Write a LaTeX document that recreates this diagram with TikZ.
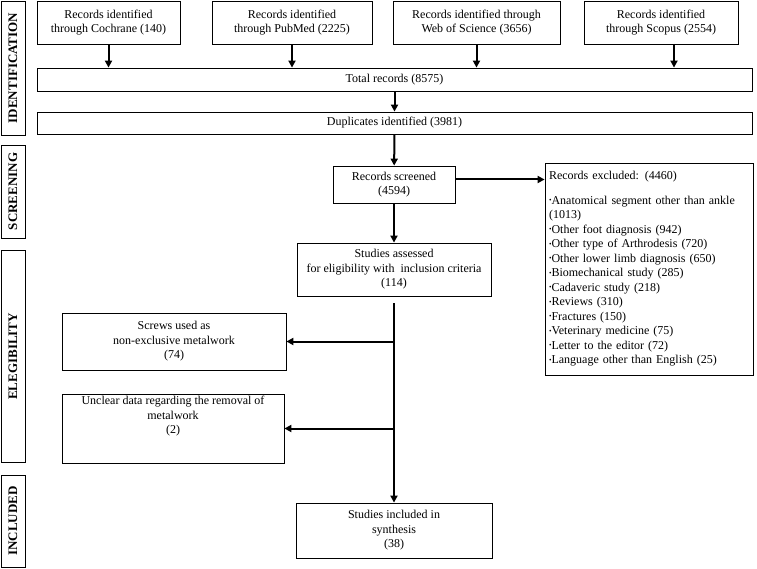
\documentclass[tikz,border=0pt]{standalone}
\usepackage{fontspec}
\setmainfont{Liberation Serif}
\usetikzlibrary{arrows.meta}
\newcommand{\smallbul}{\raisebox{0.25ex}{\scalebox{0.6}{\textbullet}}}
\begin{document}
\begin{tikzpicture}[x=1pt,y=-1pt]
        \useasboundingbox (0,0) rectangle (757,569);
        \begin{scope}[every node/.style={draw,line width=0.8pt,rotate=90,inner sep=0pt,minimum height=24pt,font=\fontsize{13}{14}\selectfont\bfseries}]
            \node (ident) [minimum width=134pt] at (13,68) {IDENTIFICATION};
            \node (screen) [minimum width=93pt] at (13,191.5) {SCREENING};
            \node (elig) [minimum width=212pt] at (13,356.5) {ELEGIBILITY};
            \node (incl) [minimum width=92pt] at (13,521) {INCLUDED};
        \end{scope}
        \begin{scope}[every node/.style={draw,line width=0.8pt,align=center,inner sep=2pt,font=\fontsize{12}{14.5}\selectfont}]
            \node (cochrane) [minimum width=143pt,minimum height=43pt] at (108.5,22.5) {Records identified\\through Cochrane (140)};
            \node (pubmed) [minimum width=160pt,minimum height=43pt] at (292,22.5) {Records identified\\through PubMed (2225)};
            \node (wos) [minimum width=167pt,minimum height=43pt] at (476.5,22.5) {Records identified through\\Web of Science (3656)};
            \node (scopus) [minimum width=154pt,minimum height=43pt] at (661,22.5) {Records identified\\through Scopus (2554)};
            \node (total) [minimum width=715pt,minimum height=23pt] at (394.5,79.5) {Total records (8575)};
            \node (dupl) [minimum width=715pt,minimum height=22pt] at (394.5,123) {Duplicates identified (3981)};
            \node (screened) [minimum width=122pt,minimum height=37pt] at (394,184.5) {Records screened\\(4594)};
            \node (assessed) [minimum width=194pt,minimum height=53pt] at (394,269.5) {Studies assessed\\for eligibility with\ \ inclusion criteria\\(114)};
            \node (screws) [minimum width=224pt,minimum height=57pt] at (174,341.5) {Screws used as\\non-exclusive metalwork\\(74)};
            \node (unclear) [minimum width=222pt,minimum height=69pt,align=center] at (173,428.5) {Unclear data regarding the removal of\\metalwork\\(2)\\[12pt]};
            \node (included) [minimum width=196pt,minimum height=55pt] at (394,530.5) {Studies included in\\synthesis\\(38)};
            \node (excluded) [minimum width=208pt,minimum height=212pt,align=left,text width=200pt,inner sep=4pt] at (649,269) {Records excluded: (4460)\\[10pt]
                \smallbul Anatomical segment other than ankle\\(1013)\\
                \smallbul Other foot diagnosis (942)\\
                \smallbul Other type of Arthrodesis (720)\\
                \smallbul Other lower limb diagnosis (650)\\
                \smallbul Biomechanical study (285)\\
                \smallbul Cadaveric study (218)\\
                \smallbul Reviews (310)\\
                \smallbul Fractures (150)\\
                \smallbul Veterinary medicine (75)\\
                \smallbul Letter to the editor (72)\\
                \smallbul Language other than English (25)};
        \end{scope}
        \coordinate (scopusout) at (674,44);
        \coordinate (scrout) at ([yshift=5pt]screened.east);
        \coordinate (asout) at ([yshift=-7pt]assessed.south);
        \begin{scope}[every edge/.style={draw,line width=2pt,-{Triangle[length=7pt,width=7pt]}}]
            \path
                (cochrane) edge (cochrane |- total.north)
                (pubmed) edge (pubmed |- total.north)
                (wos) edge (wos |- total.north)
                (scopusout) edge (scopusout |- total.north)
                (total) edge (dupl)
                (dupl) edge (screened)
                (scrout) edge (scrout -| excluded.west)
                (screened) edge (assessed)
                (asout) edge (included)
                (screws.east -| asout) edge (screws)
                (unclear.east -| asout) edge (unclear);
        \end{scope}
    \end{tikzpicture}
\end{document}
